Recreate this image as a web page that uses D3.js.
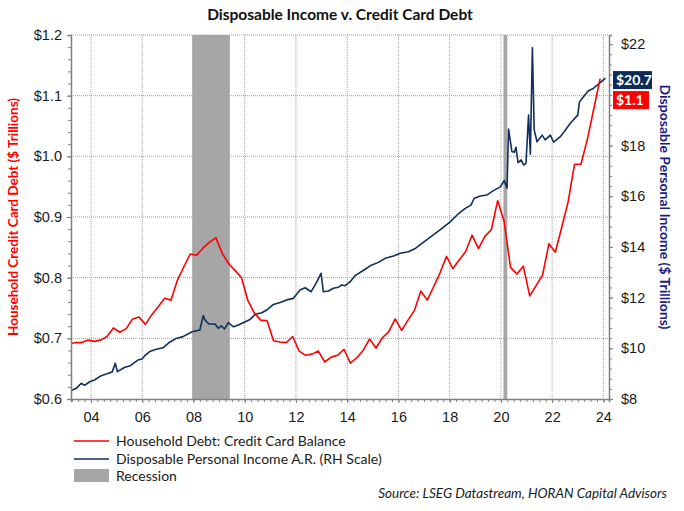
<!DOCTYPE html>
<html>
<head>
<meta charset="utf-8">
<script src="https://cdn.jsdelivr.net/npm/d3@7"></script>
<style>
  body { margin: 0; background: #fff; }
  svg { font-family: Lato, "Open Sans", sans-serif; }
</style>
</head>
<body>
<div id="chart"></div>
<script>
// quarterly credit card balance ($ trillions), 2003Q1 .. 2023Q4
var firstYear = 2003;
var creditDebt = [
  0.690, 0.693, 0.693, 0.697,
  0.695, 0.697, 0.703, 0.717,
  0.710, 0.716, 0.732, 0.735,
  0.723, 0.739, 0.752, 0.766,
  0.763, 0.796, 0.818, 0.839,
  0.837, 0.849, 0.858, 0.866,
  0.840, 0.823, 0.812, 0.800,
  0.762, 0.742, 0.730, 0.729,
  0.696, 0.694, 0.693, 0.703,
  0.679, 0.672, 0.674, 0.679,
  0.661, 0.669, 0.672, 0.682,
  0.659, 0.668, 0.680, 0.699,
  0.684, 0.701, 0.711, 0.732,
  0.713, 0.730, 0.746, 0.778,
  0.763, 0.785, 0.808, 0.835,
  0.815, 0.829, 0.843, 0.870,
  0.848, 0.868, 0.879, 0.927,
  0.893, 0.817, 0.806, 0.819,
  0.770, 0.787, 0.804, 0.856,
  0.842, 0.883, 0.925, 0.987,
  0.987, 1.028, 1.078, 1.128
];

// disposable personal income, annual rate ($ trillions)
var incomeDates = [
  2003.23, 2003.43, 2003.62, 2003.75, 2003.95, 2004.14, 2004.40, 2004.66, 2004.83, 2004.95,
  2005.03, 2005.32, 2005.51, 2005.84, 2005.99, 2006.10, 2006.29, 2006.55, 2006.81, 2007.07,
  2007.33, 2007.59, 2007.95, 2008.25, 2008.38, 2008.45, 2008.60, 2008.84, 2008.97, 2009.08,
  2009.21, 2009.36, 2009.56, 2009.75, 2010.02, 2010.21, 2010.41, 2010.67, 2010.86, 2011.12,
  2011.38, 2011.64, 2011.90, 2012.16, 2012.36, 2012.59, 2012.82, 2012.98, 2013.07, 2013.27,
  2013.46, 2013.66, 2013.79, 2013.92, 2014.12, 2014.31, 2014.70, 2014.96, 2015.22, 2015.48,
  2015.81, 2016.07, 2016.39, 2016.66, 2016.92, 2017.18, 2017.44, 2017.70, 2018.02, 2018.29,
  2018.61, 2018.83, 2018.96, 2019.20, 2019.46, 2019.71, 2019.98, 2020.13, 2020.24, 2020.30,
  2020.43, 2020.52, 2020.59, 2020.67, 2020.79, 2020.89, 2020.98, 2021.08, 2021.15, 2021.23,
  2021.30, 2021.41, 2021.61, 2021.73, 2021.93, 2022.06, 2022.32, 2022.52, 2022.71, 2023.00,
  2023.07, 2023.23, 2023.42, 2023.62, 2023.82, 2024.08
];
var incomeValues = [
  8.33, 8.42, 8.62, 8.54, 8.68, 8.75, 8.92, 9.01, 9.07, 9.41,
  9.08, 9.25, 9.30, 9.54, 9.58, 9.71, 9.87, 9.96, 10.02, 10.24,
  10.39, 10.46, 10.65, 10.72, 11.29, 11.12, 10.96, 10.96, 10.79, 10.89,
  10.76, 11.01, 10.85, 10.92, 11.05, 11.14, 11.34, 11.40, 11.51, 11.73,
  11.81, 11.91, 11.97, 12.30, 12.39, 12.23, 12.63, 12.96, 12.23, 12.26,
  12.37, 12.41, 12.50, 12.47, 12.63, 12.87, 13.12, 13.29, 13.39, 13.55,
  13.64, 13.75, 13.81, 13.94, 14.14, 14.34, 14.53, 14.73, 14.99, 15.26,
  15.52, 15.65, 15.92, 16.01, 16.05, 16.22, 16.37, 16.62, 16.32, 18.65,
  17.76, 17.73, 17.93, 17.32, 17.43, 17.23, 17.30, 19.20, 17.66, 21.86,
  18.61, 18.15, 18.41, 18.22, 18.41, 18.13, 18.35, 18.61, 18.88, 19.20,
  19.73, 19.93, 20.16, 20.26, 20.43, 20.66
];

var recessionStarts = [2007.95, 2020.10];
var recessionEnds = [2009.42, 2020.25];

var yearTicks = [2004, 2006, 2008, 2010, 2012, 2014, 2016, 2018, 2020, 2022, 2024];
var leftTicks = [0.6, 0.7, 0.8, 0.9, 1.0, 1.1, 1.2];
// $20 sits behind the end-value boxes in the original, so it gets a tick but no label
var rightTicks = [8, 10, 12, 14, 16, 18, 22];

var legendNames = ["Household Debt: Credit Card Balance",
                   "Disposable Personal Income A.R. (RH Scale)",
                   "Recession"];

var W = 684, H = 511;
var plot = {left: 71, right: 609, top: 35, bottom: 399};
var red = "#ff0000", navy = "#0f2f5f", shade = "#a6a6a6", grid = "#a0a0a0";

var svg = d3.select("#chart").append("svg")
    .attr("width", W)
    .attr("height", H);

// scales
var x = d3.scaleLinear().domain([2003.22, 2024.22]).range([plot.left, plot.right]);
var yL = d3.scaleLinear().domain([0.6, 1.2]).range([plot.bottom, plot.top]);
var yR = d3.scaleLinear().domain([8, 22.36]).range([plot.bottom, plot.top]);

svg.append("clipPath").attr("id", "clip")
  .append("rect")
    .attr("x", plot.left).attr("y", plot.top)
    .attr("width", plot.right - plot.left)
    .attr("height", plot.bottom - plot.top);

// recession shading
svg.append("g").selectAll("rect")
  .data(recessionStarts)
  .enter().append("rect")
    .attr("x", function(d) { return x(d); })
    .attr("y", plot.top)
    .attr("width", function(d, i) { return x(recessionEnds[i]) - x(d); })
    .attr("height", plot.bottom - plot.top)
    .attr("fill", shade);

// gridlines
svg.append("g").selectAll("line")
  .data(leftTicks.slice(1))
  .enter().append("line")
    .attr("x1", plot.left).attr("x2", plot.right)
    .attr("y1", function(d) { return yL(d); })
    .attr("y2", function(d) { return yL(d); })
    .attr("stroke", grid).attr("stroke-dasharray", "1,1");

svg.append("g").selectAll("line")
  .data(yearTicks)
  .enter().append("line")
    .attr("x1", function(d) { return x(d); })
    .attr("x2", function(d) { return x(d); })
    .attr("y1", plot.top).attr("y2", plot.bottom)
    .attr("stroke", grid).attr("stroke-dasharray", "1,1");

// lines
var incomeLine = d3.line()
    .x(function(d, i) { return x(incomeDates[i]); })
    .y(function(d) { return yR(d); });

var debtLine = d3.line()
    .x(function(d, i) { return x(firstYear + i * 0.25 + 0.125); })
    .y(function(d) { return yL(d); });

var lines = svg.append("g").attr("clip-path", "url(#clip)");
lines.append("path")
    .datum(incomeValues)
    .attr("d", incomeLine)
    .attr("fill", "none")
    .attr("stroke", navy)
    .attr("stroke-width", 1.6)
    .attr("stroke-linejoin", "round");
lines.append("path")
    .datum(creditDebt)
    .attr("d", debtLine)
    .attr("fill", "none")
    .attr("stroke", red)
    .attr("stroke-width", 1.6)
    .attr("stroke-linejoin", "round");

// axes
function styleAxis(g) {
  g.select(".domain").attr("stroke", "#7f7f7f").attr("stroke-width", 1.5);
  g.selectAll(".tick line").attr("stroke", "#7f7f7f");
  g.selectAll("text").attr("fill", "#1a1a1a").style("font-size", "14.5px");
}

// bottom: quarterly minor ticks, labels on even years
svg.append("g")
    .attr("transform", "translate(0," + plot.bottom + ")")
    .call(d3.axisBottom(x).tickValues(d3.range(2003.25, 2024.2, 0.25)).tickSize(3).tickFormat(""))
    .call(styleAxis);
svg.append("g")
    .attr("transform", "translate(0," + plot.bottom + ")")
    .call(d3.axisBottom(x).tickValues(yearTicks).tickSize(4).tickPadding(9)
      .tickFormat(function(d) { return d3.format("02d")(d % 100); }))
    .call(styleAxis)
    .call(function(g) { g.select(".domain").remove(); });

// left
svg.append("g")
    .attr("transform", "translate(" + plot.left + ",0)")
    .call(d3.axisLeft(yL).tickValues(d3.range(0.6, 1.2001, 0.02)).tickSize(3).tickFormat(""))
    .call(styleAxis);
svg.append("g")
    .attr("transform", "translate(" + plot.left + ",0)")
    .call(d3.axisLeft(yL).tickValues(leftTicks).tickSize(4).tickPadding(5).tickFormat(d3.format("$.1f")))
    .call(styleAxis)
    .call(function(g) { g.select(".domain").remove(); });

// right
svg.append("g")
    .attr("transform", "translate(" + plot.right + ",0)")
    .call(d3.axisRight(yR).tickValues(d3.range(8, 22.3, 0.4)).tickSize(3).tickFormat(""))
    .call(styleAxis);
svg.append("g")
    .attr("transform", "translate(" + plot.right + ",0)")
    .call(d3.axisRight(yR).tickValues(rightTicks).tickSize(4).tickPadding(8).tickFormat(d3.format("$d")))
    .call(styleAxis)
    .call(function(g) { g.select(".domain").remove(); });

// end-value labels
var lastIncome = incomeValues[incomeValues.length - 1];
var lastDebt = creditDebt[creditDebt.length - 1];
var boxX = plot.right + 4, boxH = 18;
var incomeBoxY = yR(lastIncome) - boxH / 2 + 2;
var labels = [
  {text: d3.format("$.1f")(lastIncome), fill: "#0d2b57", y: incomeBoxY, w: 39},
  {text: d3.format("$.1f")(lastDebt), fill: red, y: incomeBoxY + boxH + 2, w: 36}
];
var lab = svg.append("g").selectAll("g")
  .data(labels)
  .enter().append("g");
lab.append("rect")
    .attr("x", boxX).attr("y", function(d) { return d.y; })
    .attr("width", function(d) { return d.w; }).attr("height", boxH)
    .attr("fill", function(d) { return d.fill; });
lab.append("text")
    .attr("x", boxX + 3).attr("y", function(d) { return d.y + boxH / 2; })
    .attr("dy", "0.36em")
    .attr("fill", "#fff")
    .style("font-size", "14px").style("font-weight", "bold")
    .text(function(d) { return d.text; });

// title
svg.append("text")
    .attr("x", 340).attr("y", 20)
    .attr("text-anchor", "middle")
    .style("font-size", "15.5px").style("font-weight", "bold")
    .attr("fill", "#111")
    .text("Disposable Income v. Credit Card Debt");

// axis titles
svg.append("text")
    .attr("transform", "translate(18," + ((plot.top + plot.bottom) / 2) + ") rotate(-90)")
    .attr("text-anchor", "middle")
    .style("font-size", "13.5px").style("font-weight", "bold")
    .attr("fill", red)
    .text("Household Credit Card Debt ($ Trillions)");

svg.append("text")
    .attr("transform", "translate(660," + ((plot.top + plot.bottom) / 2 - 10) + ") rotate(90)")
    .attr("text-anchor", "middle")
    .style("font-size", "14px").style("font-weight", "bold")
    .attr("fill", "#1a1a80")
    .text("Disposable Personal Income ($ Trillions)");

// legend
var legendY = [441, 459, 476];
var leg = svg.append("g");
leg.append("line")
    .attr("x1", 74).attr("x2", 109).attr("y1", legendY[0]).attr("y2", legendY[0])
    .attr("stroke", red).attr("stroke-width", 1.6);
leg.append("line")
    .attr("x1", 74).attr("x2", 109).attr("y1", legendY[1]).attr("y2", legendY[1])
    .attr("stroke", navy).attr("stroke-width", 1.6);
leg.append("rect")
    .attr("x", 74).attr("y", legendY[2] - 7).attr("width", 35).attr("height", 13)
    .attr("fill", shade);
leg.selectAll("text")
  .data(legendNames)
  .enter().append("text")
    .attr("x", 116)
    .attr("y", function(d, i) { return legendY[i]; })
    .attr("dy", "0.35em")
    .style("font-size", "14px")
    .attr("fill", "#1a1a1a")
    .text(function(d) { return d; });

// source
svg.append("text")
    .attr("x", 667).attr("y", 498)
    .attr("text-anchor", "end")
    .style("font-size", "13.5px").style("font-style", "italic")
    .attr("fill", "#1a1a1a")
    .text("Source: LSEG Datastream, HORAN Capital Advisors");
</script>
</body>
</html>
